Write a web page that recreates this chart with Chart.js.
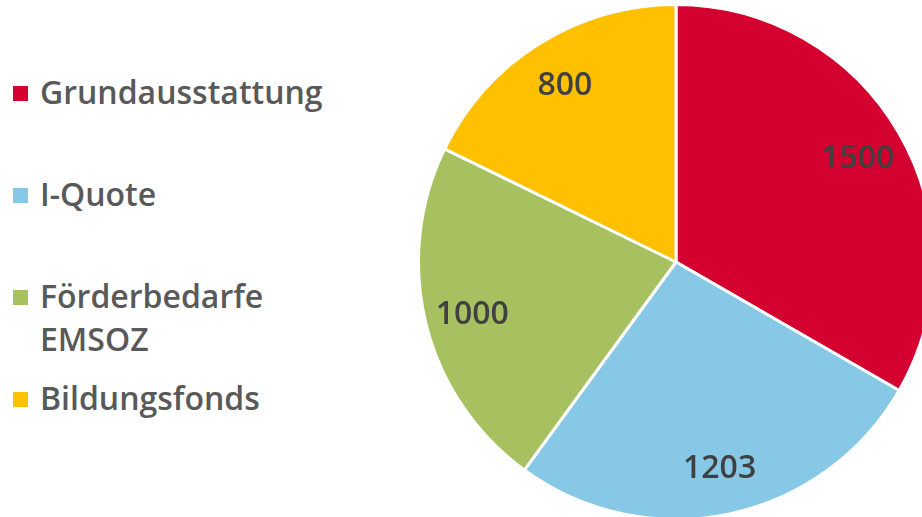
<!DOCTYPE html>
<html>
<head>
<meta charset="utf-8">
<script src="https://cdn.jsdelivr.net/npm/chart.js@4/dist/chart.umd.min.js"></script>
<style>
  html, body { margin: 0; padding: 0; background: #fff; }
  body { width: 922px; height: 517px; overflow: hidden; position: relative; font-family: 'Open Sans', sans-serif; }
  #legende { position: absolute; left: 0; top: 0; }
  .item { position: absolute; left: 13px; width: 320px; }
  .carre { position: absolute; left: 0; width: 15px; height: 15px; }
  .texte { position: absolute; left: 27px; top: -2px; width: 260px; font-size: 32px; font-weight: 600; color: #595959; line-height: 43px; }
  #zone { position: absolute; left: 417px; top: 3px; width: 518px; height: 518px; }
</style>
</head>
<body>
<div id="legende"></div>
<div id="zone"><canvas id="graphique"></canvas></div>
<script>
const categories = ['Grundausstattung', 'I-Quote', 'Förderbedarfe EMSOZ', 'Bildungsfonds'];
const valeurs = [1500, 1203, 1000, 800];
const couleurs = ['#D40030', '#87C8E6', '#A8C160', '#FFC000'];

// Légende à gauche (HTML)
const legende = document.getElementById('legende');
categories.forEach((nom, i) => {
  const centre = 93 + i * 102;
  const div = document.createElement('div');
  div.className = 'item';
  div.style.top = (centre - 21.5) + 'px';
  div.innerHTML = `<div class="carre" style="top:${21.5 - 7.5}px;background:${couleurs[i]}"></div>
    <div class="texte">${nom}</div>`;
  legende.appendChild(div);
});

// Étiquettes de valeurs dans les parts
const etiquettes = {
  id: 'etiquettes',
  afterDatasetsDraw(chart) {
    const ctx = chart.ctx;
    const meta = chart.getDatasetMeta(0);
    ctx.save();
    ctx.font = "600 32px 'Open Sans', sans-serif";
    ctx.fillStyle = '#404040';
    ctx.textAlign = 'center';
    ctx.textBaseline = 'middle';
    meta.data.forEach((arc, i) => {
      const p = arc.getProps(['x', 'y', 'startAngle', 'endAngle', 'outerRadius'], true);
      const a = (p.startAngle + p.endAngle) / 2;
      const r = p.outerRadius * 0.815;
      ctx.fillText(String(valeurs[i]), p.x + Math.cos(a) * r, p.y + Math.sin(a) * r + 2);
    });
    ctx.restore();
  }
};

new Chart(document.getElementById('graphique'), {
  type: 'pie',
  data: {
    labels: categories,
    datasets: [{
      data: valeurs,
      backgroundColor: couleurs,
      borderColor: '#fff',
      borderWidth: 3,
      hoverOffset: 0
    }]
  },
  options: {
    responsive: true,
    maintainAspectRatio: false,
    animation: false,
    layout: { padding: 0 },
    plugins: {
      legend: { display: false },
      tooltip: { enabled: false }
    }
  },
  plugins: [etiquettes]
});
</script>
</body>
</html>
